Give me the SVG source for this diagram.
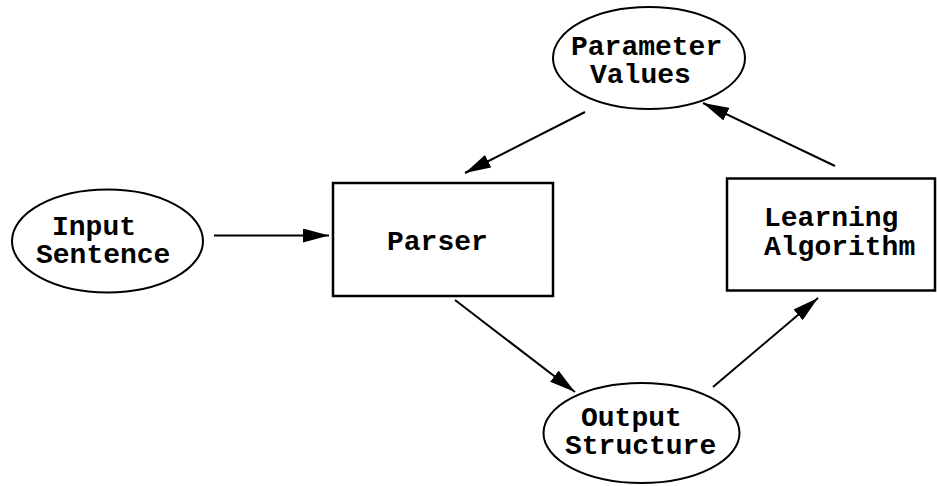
<svg xmlns="http://www.w3.org/2000/svg" width="937" height="486" viewBox="0 0 937 486">
  <style>
    .shape { fill: #fff; stroke: #000; stroke-width: 2; }
    .box { fill: #fff; stroke: #000; stroke-width: 2.5; }
    .label { font-family: "Liberation Mono", "Courier New", monospace; font-weight: bold; font-size: 28px; fill: #000; }
    .edge { stroke: #000; stroke-width: 2; fill: none; marker-end: url(#head); }
  </style>
  <defs>
    <marker id="head" markerUnits="userSpaceOnUse" markerWidth="27" markerHeight="14" refX="26" refY="7" orient="auto">
      <path d="M0,0 L26,7 L0,14 z" fill="#000"/>
    </marker>
  </defs>
  <rect width="937" height="486" fill="#fff"/>

  <g id="input-sentence">
    <ellipse class="shape" cx="107.5" cy="241" rx="95.5" ry="51.5"/>
    <text class="label" x="52" y="235">Input</text>
    <text class="label" x="36" y="263">Sentence</text>
  </g>

  <g id="parser">
    <rect class="box" x="333" y="183" width="220" height="113"/>
    <text class="label" x="387" y="250">Parser</text>
  </g>

  <g id="parameter-values">
    <ellipse class="shape" cx="649" cy="58" rx="96" ry="51"/>
    <text class="label" x="571" y="55">Parameter</text>
    <text class="label" x="590" y="83">Values</text>
  </g>

  <g id="learning-algorithm">
    <rect class="box" x="727" y="178.5" width="208" height="112"/>
    <text class="label" x="764" y="226">Learning</text>
    <text class="label" x="764" y="255">Algorithm</text>
  </g>

  <g id="output-structure">
    <ellipse class="shape" cx="641.5" cy="433" rx="98" ry="50"/>
    <text class="label" x="581" y="426">Output</text>
    <text class="label" x="565" y="454">Structure</text>
  </g>

  <g id="connectors">
    <line class="edge" x1="214" y1="235.5" x2="329" y2="235.5"/>
    <line class="edge" x1="585" y1="112" x2="465" y2="173"/>
    <line class="edge" x1="835" y1="166" x2="703" y2="103"/>
    <line class="edge" x1="455" y1="300" x2="575" y2="392"/>
    <line class="edge" x1="713" y1="387" x2="818" y2="298"/>
  </g>
</svg>
